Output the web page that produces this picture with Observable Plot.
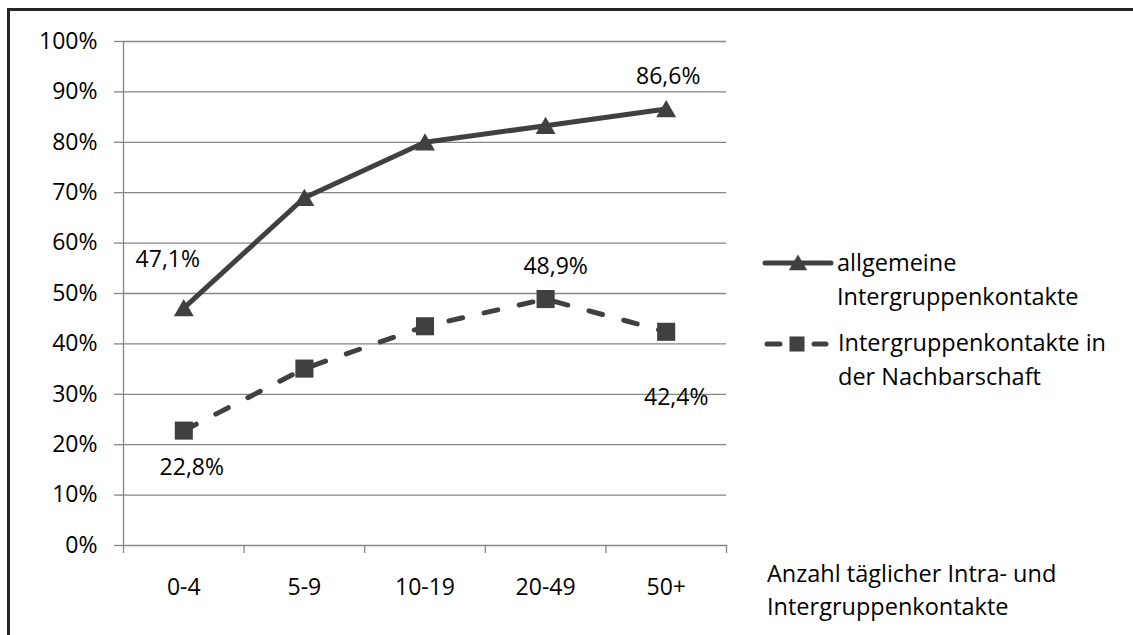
<!DOCTYPE html>
<html><head><meta charset="utf-8">
<script src="https://cdn.jsdelivr.net/npm/d3@7"></script>
<script src="https://cdn.jsdelivr.net/npm/@observablehq/plot@0.6"></script>
<style>
html,body{margin:0;padding:0;background:#fff;overflow:hidden;}
#wrap{position:relative;width:1133px;height:635px;overflow:hidden;font-family:"Open Sans",sans-serif;color:#000;font-size:23.5px;}
#frame{position:absolute;left:7px;top:8px;width:2000px;height:2000px;border:3px solid #262626;box-sizing:border-box;}
#chart{position:absolute;left:0;top:0;}
.txt{position:absolute;line-height:34px;white-space:nowrap;}
.sym{position:absolute;}
</style>
</head><body>
<div id="wrap">
  <div id="frame"></div>
  <div id="chart"></div>
  <svg class="sym" id="sym1" style="left:762px;top:253px" width="72" height="22"></svg>
  <div class="txt" id="leg1" style="left:837px;top:245px"></div>
  <svg class="sym" id="sym2" style="left:762px;top:333px" width="72" height="22"></svg>
  <div class="txt" id="leg2" style="left:838px;top:325px"></div>
  <div class="txt" id="xtitle" style="left:767px;top:557px;line-height:33px"></div>
</div>
<script>
const categories = ["0-4", "5-9", "10-19", "20-49", "50+"];
const allgemeine = [47.1, 69.0, 80.0, 83.3, 86.6];
const nachbarschaft = [22.8, 35.1, 43.5, 48.9, 42.4];
const yTicks = [0, 10, 20, 30, 40, 50, 60, 70, 80, 90, 100];
const seriesLines = [["allgemeine", "Intergruppenkontakte"], ["Intergruppenkontakte in", "der Nachbarschaft"]];
const xTitleLines = ["Anzahl täglicher Intra- und", "Intergruppenkontakte"];

const grey = "#868686";
const dark = "#404040";
const fs = 23;
const idx = categories.map((c, i) => i);
const px = i => i + 0.5;
const fmt = v => v.toFixed(1).replace(".", ",") + "%";
const bounds = d3.range(categories.length + 1);

const chart = Plot.plot({
  width: 1133, height: 635,
  marginLeft: 123, marginRight: 407, marginTop: 41, marginBottom: 90,
  style: {fontFamily: "Open Sans", fontSize: fs + "px", color: "#000", background: "transparent", overflow: "visible"},
  x: {type: "linear", domain: [0, categories.length]},
  y: {domain: [0, 100]},
  marks: [
    Plot.ruleY(yTicks, {stroke: grey, strokeWidth: 1.3}),
    Plot.axisY(yTicks, {tickSize: 9, tickPadding: 17, stroke: grey, strokeWidth: 1.3, fill: "#000", tickFormat: d => d + "%", label: null, fontSize: fs}),
    Plot.ruleX([0], {stroke: grey, strokeWidth: 1.3}),
    Plot.axisX(bounds, {tickSize: 8, stroke: grey, strokeWidth: 1.3, tickFormat: () => "", label: null}),
    Plot.axisX(idx.map(px), {tickSize: 0, tickPadding: 33, fill: "#000", tickFormat: d => categories[d - 0.5], label: null, fontSize: fs}),
    Plot.line(idx, {x: px, y: i => allgemeine[i], stroke: dark, strokeWidth: 5, strokeLinejoin: "round"}),
    Plot.line(idx, {x: px, y: i => nachbarschaft[i], stroke: dark, strokeWidth: 5, strokeDasharray: "14,22", strokeLinecap: "round"}),
    Plot.dot(idx, {x: px, y: i => allgemeine[i], symbol: "triangle", r: 7.4, fill: dark, stroke: null, dy: 2.5}),
    Plot.dot(idx, {x: px, y: i => nachbarschaft[i], symbol: "square", r: 10.2, fill: dark, stroke: null}),
    Plot.text([0], {x: px, y: i => allgemeine[i], text: i => fmt(allgemeine[i]), dx: -16, dy: -48, fill: "#000", fontSize: fs}),
    Plot.text([4], {x: px, y: i => allgemeine[i], text: i => fmt(allgemeine[i]), dx: 2, dy: -32, fill: "#000", fontSize: fs}),
    Plot.text([0], {x: px, y: i => nachbarschaft[i], text: i => fmt(nachbarschaft[i]), dx: 8, dy: 37, fill: "#000", fontSize: fs}),
    Plot.text([3], {x: px, y: i => nachbarschaft[i], text: i => fmt(nachbarschaft[i]), dx: 10, dy: -32, fill: "#000", fontSize: fs}),
    Plot.text([4], {x: px, y: i => nachbarschaft[i], text: i => fmt(nachbarschaft[i]), dx: 10, dy: 66, fill: "#000", fontSize: fs})
  ]
});
document.getElementById("chart").appendChild(chart);

// legend symbols
const s1 = d3.select("#sym1");
s1.append("line").attr("x1", 3).attr("x2", 69).attr("y1", 10).attr("y2", 10).attr("stroke", dark).attr("stroke-width", 5).attr("stroke-linecap", "round");
s1.append("path").attr("d", d3.symbol(d3.symbolTriangle, Math.PI * 6.8 * 6.8)()).attr("transform", "translate(36,12)").attr("fill", dark);
const s2 = d3.select("#sym2");
s2.append("line").attr("x1", 5).attr("x2", 18).attr("y1", 11).attr("y2", 11).attr("stroke", dark).attr("stroke-width", 5).attr("stroke-linecap", "round");
s2.append("line").attr("x1", 52).attr("x2", 64).attr("y1", 11).attr("y2", 11).attr("stroke", dark).attr("stroke-width", 5).attr("stroke-linecap", "round");
s2.append("path").attr("d", d3.symbol(d3.symbolSquare, Math.PI * 8.5 * 8.5)()).attr("transform", "translate(35,11)").attr("fill", dark);

document.getElementById("leg1").innerHTML = seriesLines[0].join("<br>");
document.getElementById("leg2").innerHTML = seriesLines[1].join("<br>");
document.getElementById("xtitle").innerHTML = xTitleLines.join("<br>");
</script>
</body></html>
